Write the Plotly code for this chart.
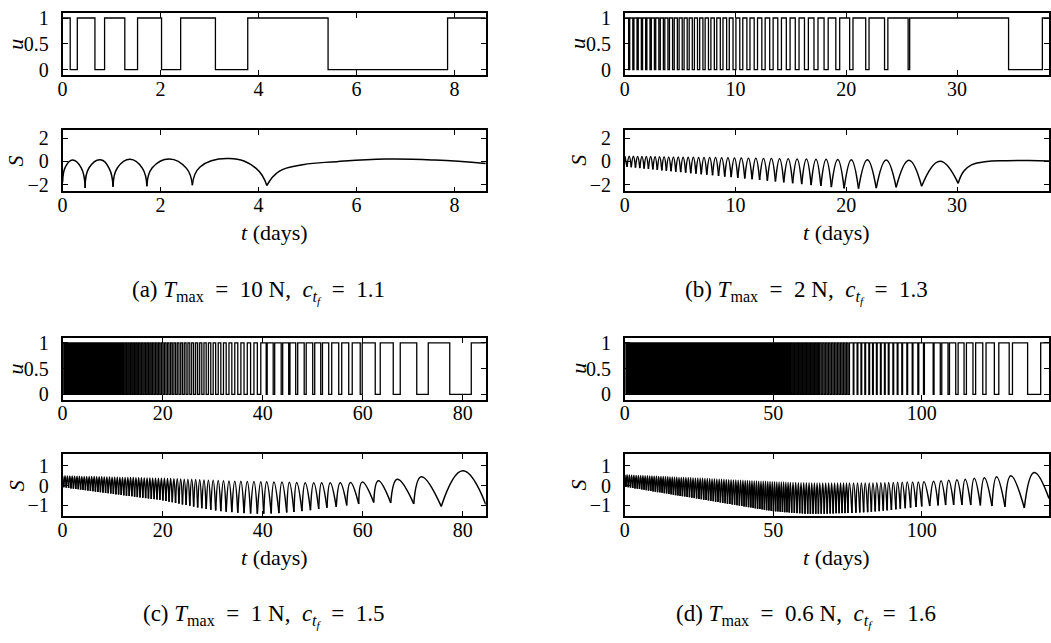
import plotly.graph_objects as go

W, H = 1051, 643

# ---------------- data ----------------
# (a) T_max = 10 N
a_u_switch = [0.155, 0.30, 0.66, 0.857, 1.27, 1.53, 2.02, 2.41, 3.12, 3.78, 5.42, 7.86]
a_S_t = [0, 0.06, 0.2, 0.38, 0.46, 0.54, 0.77, 0.95, 1.03, 1.12, 1.38, 1.63, 1.72, 1.83,
         2.18, 2.53, 2.65, 2.8, 3.4, 3.95, 4.17, 4.42, 4.9, 5.6, 6.6, 7.6, 8.64]
a_S_v = [-1.8, -0.45, 0.12, -0.55, -2.29, -0.55, 0.15, -0.6, -2.2, -0.55, 0.18, -0.6, -2.14, -0.55,
         0.22, -0.6, -2.06, -0.5, 0.25, -0.6, -2.09, -0.86, -0.29, -0.02, 0.2, 0.12, -0.18]

# (b) T_max = 2 N
b_u_switch = [0.34, 0.44, 0.72, 0.82, 1.1, 1.21, 1.49, 1.6, 1.88, 1.99, 2.27, 2.39, 2.67, 2.79,
              3.07, 3.2, 3.48, 3.61, 3.89, 4.03, 4.31, 4.46, 4.74, 4.9, 5.18, 5.35, 5.63, 5.81,
              6.09, 6.28, 6.56, 6.76, 7.05, 7.25, 7.55, 7.77, 8.08, 8.3, 8.62, 8.86, 9.19, 9.43,
              9.77, 10.03, 10.38, 10.65, 11.02, 11.3, 11.68, 11.98, 12.37, 12.67, 13.08, 13.39,
              13.81, 14.14, 14.58, 14.92, 15.39, 15.73, 16.22, 16.57, 17.08, 17.44, 17.99, 18.36,
              19.05, 19.4, 20.3, 20.6, 21.75, 22.05, 23.45, 23.75, 25.58, 25.72, 34.65, 37.7]
b_S_t = [0, 0.2, 0.39, 0.58, 0.77, 0.96, 1.155, 1.35, 1.545, 1.74,
         1.935, 2.13, 2.33, 2.53, 2.73, 2.93, 3.135, 3.34, 3.545, 3.75,
         3.96, 4.17, 4.385, 4.6, 4.82, 5.04, 5.265, 5.49, 5.72, 5.95,
         6.185, 6.42, 6.66, 6.9, 7.15, 7.4, 7.66, 7.92, 8.19, 8.46,
         8.74, 9.02, 9.31, 9.6, 9.9, 10.2, 10.515, 10.83, 11.16, 11.49,
         11.83, 12.17, 12.52, 12.87, 13.235, 13.6, 13.975, 14.35, 14.75, 15.15,
         15.56, 15.97, 16.395, 16.82, 17.26, 17.7, 18.175, 18.65, 19.225, 19.8,
         20.45, 21.1, 21.9, 22.7, 23.6, 24.5, 25.65, 26.8, 28.45, 30.1,
         30.6, 31.3, 32.5, 34.5, 36.5, 38.3]
b_S_v = [0.45, -0.47, 0.44, -0.5, 0.44, -0.54, 0.43, -0.58, 0.43, -0.62,
         0.42, -0.65, 0.42, -0.69, 0.41, -0.73, 0.41, -0.77, 0.4, -0.81,
         0.39, -0.85, 0.39, -0.89, 0.38, -0.93, 0.37, -0.97, 0.37, -1.02,
         0.36, -1.06, 0.35, -1.11, 0.35, -1.15, 0.34, -1.2, 0.33, -1.25,
         0.32, -1.31, 0.31, -1.36, 0.3, -1.42, 0.29, -1.48, 0.28, -1.54,
         0.27, -1.61, 0.26, -1.67, 0.25, -1.74, 0.24, -1.81, 0.23, -1.89,
         0.22, -1.97, 0.2, -2.05, 0.19, -2.13, 0.18, -2.22, 0.16, -2.33,
         0.15, -2.35, 0.14, -2.32, 0.12, -2.25, 0.1, -2.15, 0.02, -1.9,
         -0.85, -0.3, -0.03, 0.06, 0.07, 0.04]

# (c) T_max = 1 N : dense part = alternating peak / cusp instants (u toggles there too)
c_dense_t = [0.00, 0.24, 0.48, 0.72, 0.96, 1.20, 1.44, 1.68, 1.92, 2.16,
             2.40, 2.64, 2.88, 3.12, 3.36, 3.60, 3.84, 4.08, 4.32, 4.56,
             4.81, 5.06, 5.31, 5.56, 5.81, 6.06, 6.31, 6.56, 6.81, 7.06,
             7.31, 7.56, 7.81, 8.07, 8.33, 8.59, 8.85, 9.11, 9.37, 9.63,
             9.89, 10.15, 10.41, 10.67, 10.93, 11.19, 11.45, 11.71, 11.97, 12.23,
             12.5, 12.77, 13.04, 13.31, 13.58, 13.85, 14.12, 14.39, 14.66, 14.93,
             15.2, 15.48, 15.76, 16.04, 16.32, 16.6, 16.88, 17.16, 17.44, 17.72,
             18.0, 18.29, 18.58, 18.87, 19.16, 19.45, 19.75, 20.05, 20.35, 20.66,
             20.97, 21.28, 21.6, 21.92, 22.25, 22.58, 22.92, 23.26, 23.61, 23.96,
             24.32, 24.68, 25.05, 25.43, 25.81, 26.2, 26.6, 27.0, 27.41, 27.83,
             28.26, 28.7, 29.15, 29.62, 30.1, 30.6, 31.11, 31.63, 32.16, 32.7,
             33.26, 33.83, 34.42, 35.02, 35.64, 36.27, 36.92, 37.58, 38.25, 38.93,
             39.62]
c_dense_S = [0.48, -0.08, 0.5, -0.1, 0.49, -0.12, 0.49, -0.14, 0.49, -0.15,
             0.48, -0.17, 0.48, -0.18, 0.48, -0.2, 0.47, -0.22, 0.47, -0.23,
             0.47, -0.25, 0.46, -0.27, 0.46, -0.28, 0.46, -0.3, 0.45, -0.32,
             0.45, -0.33, 0.45, -0.35, 0.44, -0.37, 0.44, -0.38, 0.44, -0.4,
             0.43, -0.42, 0.43, -0.44, 0.43, -0.45, 0.42, -0.47, 0.42, -0.49,
             0.42, -0.51, 0.41, -0.52, 0.41, -0.54, 0.41, -0.56, 0.4, -0.58,
             0.4, -0.6, 0.4, -0.61, 0.39, -0.63, 0.39, -0.65, 0.39, -0.67,
             0.38, -0.68, 0.38, -0.7, 0.38, -0.72, 0.37, -0.75, 0.37, -0.78,
             0.36, -0.81, 0.36, -0.84, 0.35, -0.88, 0.35, -0.91, 0.34, -0.95,
             0.33, -0.98, 0.33, -1.02, 0.32, -1.06, 0.31, -1.1, 0.3, -1.14,
             0.29, -1.18, 0.28, -1.22, 0.27, -1.26, 0.26, -1.29, 0.25, -1.32,
             0.24, -1.34, 0.23, -1.37, 0.22, -1.39, 0.21, -1.41, 0.21, -1.42,
             0.2]
c_late_u_switch = [40.7, 40.9, 42.1, 42.4, 43.7, 44.0, 45.2, 45.45, 46.6, 47.0, 48.3, 48.7,
                   50.0, 50.4, 51.6, 51.95, 53.2, 53.8, 55.2, 55.8, 57.2, 57.9, 59.5, 59.9,
                   62.5, 63.5, 66.1, 67.5, 70.8, 73.1, 77.4, 81.7]
c_late_S_t = [40.2, 40.8, 41.7, 42.25, 43.25, 43.85, 44.8, 45.33, 46.25, 46.8, 47.85, 48.5,
              49.55, 50.2, 51.2, 51.78, 52.85, 53.5, 54.7, 55.5, 56.8, 57.55, 59.2, 59.9,
              62.2, 63.1, 65.6, 66.9, 70.2, 71.7, 75.7, 80.0, 84.6]
c_late_S_v = [-1.42, 0.2, -1.41, 0.19, -1.39, 0.18, -1.36, 0.17, -1.33, 0.16, -1.29, 0.15,
              -1.24, 0.15, -1.18, 0.15, -1.12, 0.15, -1.07, 0.15, -1.0, 0.16, -0.93, 0.18,
              -0.85, 0.25, -0.87, 0.32, -0.92, 0.45, -1.05, 0.75, -0.95]

# (d) T_max = 0.6 N
d_dense_t = [0.00, 0.38, 0.76, 1.14, 1.52, 1.90, 2.28, 2.66, 3.04, 3.42,
             3.80, 4.18, 4.56, 4.94, 5.32, 5.70, 6.08, 6.46, 6.84, 7.22,
             7.60, 7.98, 8.36, 8.74, 9.12, 9.50, 9.88, 10.26, 10.64, 11.02,
             11.40, 11.78, 12.16, 12.54, 12.92, 13.30, 13.68, 14.06, 14.44, 14.82,
             15.20, 15.58, 15.96, 16.34, 16.72, 17.10, 17.48, 17.86, 18.24, 18.62,
             19.00, 19.38, 19.76, 20.16, 20.56, 20.96, 21.36, 21.76, 22.16, 22.56,
             22.96, 23.36, 23.76, 24.16, 24.56, 24.96, 25.36, 25.76, 26.16, 26.56,
             26.96, 27.36, 27.76, 28.16, 28.56, 28.96, 29.36, 29.76, 30.16, 30.56,
             30.96, 31.36, 31.76, 32.16, 32.56, 32.96, 33.36, 33.76, 34.16, 34.56,
             34.96, 35.36, 35.76, 36.16, 36.56, 36.96, 37.36, 37.76, 38.16, 38.56,
             38.96, 39.36, 39.76, 40.14, 40.52, 40.90, 41.28, 41.66, 42.04, 42.42,
             42.80, 43.18, 43.56, 43.94, 44.32, 44.70, 45.08, 45.46, 45.84, 46.22,
             46.60, 46.98, 47.36, 47.74, 48.12, 48.50, 48.88, 49.26, 49.64, 50.02,
             50.40, 50.78, 51.16, 51.54, 51.92, 52.30, 52.68, 53.06, 53.44, 53.82,
             54.20, 54.58, 54.96, 55.34, 55.72, 56.17, 56.62, 57.07, 57.52, 57.97,
             58.42, 58.87, 59.32, 59.77, 60.22, 60.67, 61.12, 61.57, 62.02, 62.47,
             62.92, 63.37, 63.82, 64.27, 64.72, 65.17, 65.62, 66.12, 66.62, 67.12,
             67.62, 68.12, 68.62, 69.12, 69.62, 70.12, 70.62, 71.12, 71.62, 72.12,
             72.62, 73.12, 73.62, 74.12, 74.62, 75.12, 75.62]
d_dense_S = [0.55, -0.06, 0.55, -0.08, 0.54, -0.10, 0.53, -0.12, 0.53, -0.14,
             0.52, -0.15, 0.52, -0.17, 0.51, -0.19, 0.51, -0.21, 0.5, -0.23,
             0.5, -0.25, 0.49, -0.27, 0.49, -0.29, 0.48, -0.31, 0.48, -0.33,
             0.47, -0.34, 0.47, -0.36, 0.46, -0.38, 0.45, -0.4, 0.45, -0.42,
             0.44, -0.44, 0.44, -0.46, 0.43, -0.48, 0.43, -0.5, 0.42, -0.52,
             0.42, -0.53, 0.41, -0.55, 0.41, -0.57, 0.4, -0.59, 0.4, -0.61,
             0.39, -0.63, 0.38, -0.65, 0.38, -0.67, 0.37, -0.69, 0.37, -0.71,
             0.36, -0.73, 0.36, -0.75, 0.35, -0.77, 0.34, -0.79, 0.34, -0.81,
             0.33, -0.83, 0.33, -0.85, 0.32, -0.87, 0.32, -0.89, 0.31, -0.91,
             0.3, -0.93, 0.3, -0.95, 0.29, -0.97, 0.29, -0.99, 0.28, -1.01,
             0.28, -1.03, 0.27, -1.05, 0.26, -1.07, 0.26, -1.09, 0.25, -1.11,
             0.25, -1.13, 0.24, -1.15, 0.24, -1.17, 0.23, -1.18, 0.23, -1.2,
             0.22, -1.22, 0.22, -1.24, 0.21, -1.26, 0.21, -1.27, 0.2, -1.29,
             0.2, -1.3, 0.19, -1.31, 0.19, -1.32, 0.18, -1.33, 0.18, -1.34,
             0.17, -1.35, 0.17, -1.36, 0.16, -1.37, 0.16, -1.38, 0.16, -1.39,
             0.15, -1.4, 0.15, -1.41, 0.15, -1.42, 0.15, -1.42, 0.15, -1.42,
             0.14, -1.42, 0.14, -1.42, 0.14, -1.42, 0.14, -1.42, 0.14, -1.42,
             0.14, -1.42, 0.13, -1.41, 0.13, -1.41, 0.13, -1.4, 0.13, -1.4,
             0.13, -1.39, 0.13, -1.39, 0.13, -1.38, 0.13]
d_late_u_switch = [76.9, 77.1, 78.2, 78.45, 79.5, 79.75, 80.8, 81.05, 82.15, 82.4, 83.4, 83.65,
                   84.7, 84.95, 86.05, 86.3, 87.4, 87.65, 88.7, 88.95, 90.25, 90.5, 91.7, 91.95,
                   93.25, 93.5, 94.95, 95.2, 96.75, 97.0, 98.65, 98.95, 100.55, 100.85,
                   103.8, 104.1, 106.2, 106.7, 108.8, 109.3, 111.4, 112.2, 114.2, 115.0,
                   117.2, 118.1, 120.5, 121.6, 124.4, 125.9, 129.4, 130.5, 135.6, 140.0]
d_late_S_t = [76.45, 77.0, 77.8, 78.33, 79.1, 79.63, 80.4, 80.93, 81.75, 82.28, 83.0, 83.53,
              84.3, 84.83, 85.65, 86.18, 87.0, 87.53, 88.3, 88.83, 89.75, 90.38, 91.25, 91.83,
              92.75, 93.38, 94.4, 95.08, 96.2, 96.88, 98.05, 98.8, 99.95, 100.7, 102.65, 103.95,
              105.45, 106.45, 108.0, 109.05, 110.7, 111.8, 113.5, 114.6, 116.45, 117.65,
              119.7, 121.05, 123.6, 125.15, 128.0, 129.95, 134.5, 137.8, 142.8]
d_late_S_v = [-1.38, 0.13, -1.37, 0.13, -1.36, 0.13, -1.35, 0.14, -1.34, 0.14, -1.32, 0.14,
              -1.31, 0.15, -1.29, 0.15, -1.27, 0.15, -1.25, 0.16, -1.23, 0.16, -1.2, 0.17,
              -1.17, 0.17, -1.14, 0.18, -1.11, 0.18, -1.08, 0.19, -1.05, 0.2, -1.03, 0.22,
              -1.0, 0.25, -0.98, 0.27, -0.97, 0.3, -0.97, 0.33, -0.98, 0.37,
              -1.0, 0.4, -1.03, 0.45, -1.07, 0.5, -1.13, 0.67, -0.65]

t_end = {"a": 8.64, "b": 38.3, "c": 84.6, "d": 142.8}
x_ticks = {"a": [0, 2, 4, 6, 8], "b": [0, 10, 20, 30], "c": [0, 20, 40, 60, 80], "d": [0, 50, 100]}
S_range = {"a": [-2.6, 2.75], "b": [-2.6, 2.75], "c": [-1.55, 1.58], "d": [-1.55, 1.58]}
S_ticks = {"a": [-2, 0, 2], "b": [-2, 0, 2], "c": [-1, 0, 1], "d": [-1, 0, 1]}
u_ticks = [0, 0.5, 1]
captions = {
    "a": ("(a)", "10", "1.1"),
    "b": ("(b)", "2", "1.3"),
    "c": ("(c)", "1", "1.5"),
    "d": ("(d)", "0.6", "1.6"),
}

for t_, v_ in [(a_S_t, a_S_v), (b_S_t, b_S_v), (c_dense_t, c_dense_S),
               (c_late_S_t, c_late_S_v), (d_dense_t, d_dense_S), (d_late_S_t, d_late_S_v)]:
    assert len(t_) == len(v_), (len(t_), len(v_))

u_sw = {"a": a_u_switch, "b": b_u_switch,
        "c": c_dense_t[1:] + c_late_u_switch, "d": d_dense_t[1:] + d_late_u_switch}
S_pts = {"a": (a_S_t, a_S_v), "b": (b_S_t, b_S_v),
         "c": (c_dense_t + c_late_S_t, c_dense_S + c_late_S_v),
         "d": (d_dense_t + d_late_S_t, d_dense_S + d_late_S_v)}


def u_xy(sw, tend):
    x, y, lvl = [0.0], [1], 1
    for t in sw:
        lvl = 1 - lvl
        x.append(t)
        y.append(lvl)
    x.append(tend)
    y.append(lvl)
    return x, y


def s_xy(t, v):
    xs, ys = [], []
    n = len(t)
    for i in range(n):
        xs.append(t[i]); ys.append(v[i])
        if 0 < i < n - 1 and v[i] < v[i - 1] and v[i] < v[i + 1]:
            xs += [None, t[i]]; ys += [None, v[i]]
    return xs, ys


# ---------------- layout geometry (px) ----------------
col_px = {"a": (58, 484), "b": (624, 1051), "c": (58, 484), "d": (624, 1051)}
row_u = {"a": (7, 70), "b": (7, 70), "c": (338, 401), "d": (338, 401)}
row_S = {"a": (126, 189), "b": (126, 189), "c": (457, 520), "d": (457, 520)}
tlabel_y = {"a": 231, "b": 231, "c": 562, "d": 562}
cap_y = {"a": 291, "b": 291, "c": 622, "d": 622}
cap_x = {"a": 255, "b": 807, "c": 260, "d": 806}
ylab_x = {"a": 11, "b": 577, "c": 11, "d": 577}

SERIF = "Liberation Serif"
fig = go.Figure()
layout = dict(width=W, height=H, margin=dict(l=0, r=0, t=0, b=0),
              paper_bgcolor="white", plot_bgcolor="white", showlegend=False,
              hovermode=False)
annotations = []

axis_common = dict(showline=True, linecolor="black", linewidth=1.8, mirror="ticks",
                   ticks="inside", ticklen=5, tickwidth=1, tickcolor="black",
                   showgrid=False, zeroline=False, fixedrange=True,
                   tickfont=dict(family=SERIF, size=20, color="black"))


def xd(p):
    return [p[0] / W, p[1] / W]


def yd(p):
    return [1 - p[1] / H, 1 - p[0] / H]


k = 0
for key in ["a", "b", "c", "d"]:
    for kind in ["u", "S"]:
        k += 1
        xa = "xaxis" if k == 1 else f"xaxis{k}"
        ya = "yaxis" if k == 1 else f"yaxis{k}"
        xref = "x" if k == 1 else f"x{k}"
        yref = "y" if k == 1 else f"y{k}"
        if kind == "u":
            x, y = u_xy(u_sw[key], t_end[key])
            fig.add_trace(go.Scatter(x=x, y=y, mode="lines", xaxis=xref, yaxis=yref,
                                     line=dict(color="black", width=1.3, shape="hv")))
            yr, yt, dom_y = [-0.1, 1.1], u_ticks, row_u[key]
            ytxt = ["0", "0.5", "1"]
        else:
            x, y = s_xy(*S_pts[key])
            fig.add_trace(go.Scatter(x=x, y=y, mode="lines", xaxis=xref, yaxis=yref,
                                     connectgaps=False,
                                     line=dict(color="black", width=1.5, shape="spline",
                                               smoothing=1.3)))
            yr, yt, dom_y = S_range[key], S_ticks[key], row_S[key]
            ytxt = [("\u2212" + str(abs(v))) if v < 0 else str(v) for v in yt]
        layout[xa] = dict(axis_common, domain=xd(col_px[key]), range=[0, t_end[key]],
                          anchor=yref, tickvals=x_ticks[key],
                          ticktext=[str(v) for v in x_ticks[key]], ticklabelstandoff=-5)
        layout[ya] = dict(axis_common, domain=yd(dom_y), range=yr, anchor=xref,
                          tickvals=yt, ticktext=ytxt, ticklabelstandoff=8)
        cy = (dom_y[0] + dom_y[1]) / 2
        annotations.append(dict(x=ylab_x[key] / W, y=1 - cy / H, xref="paper", yref="paper",
                                text="<i>%s</i>" % kind, showarrow=False, textangle=-90,
                                xanchor="center", yanchor="middle",
                                font=dict(family=SERIF, size=22, color="black")))
    annotations.append(dict(x=(col_px[key][0] + 213) / W, y=1 - tlabel_y[key] / H,
                            xref="paper", yref="paper", text="<i>t</i> (days)",
                            showarrow=False, xanchor="center", yanchor="middle",
                            font=dict(family=SERIF, size=22, color="black")))
    lab, tm, ct = captions[key]
    sp = "\u00a0"
    cap = (f"{lab}{sp}<i>T</i><sub>max</sub>{sp * 2}={sp * 2}{tm} N,{sp * 2}"
           f"<i>c</i><sub><i>t<sub>f</sub></i></sub>{sp * 2}={sp * 2}{ct}")
    annotations.append(dict(x=cap_x[key] / W, y=1 - cap_y[key] / H, xref="paper", yref="paper",
                            text=cap, showarrow=False, xanchor="center", yanchor="middle",
                            font=dict(family=SERIF, size=23, color="black")))

layout["annotations"] = annotations
fig.update_layout(**layout)
fig.write_html("out.html")
